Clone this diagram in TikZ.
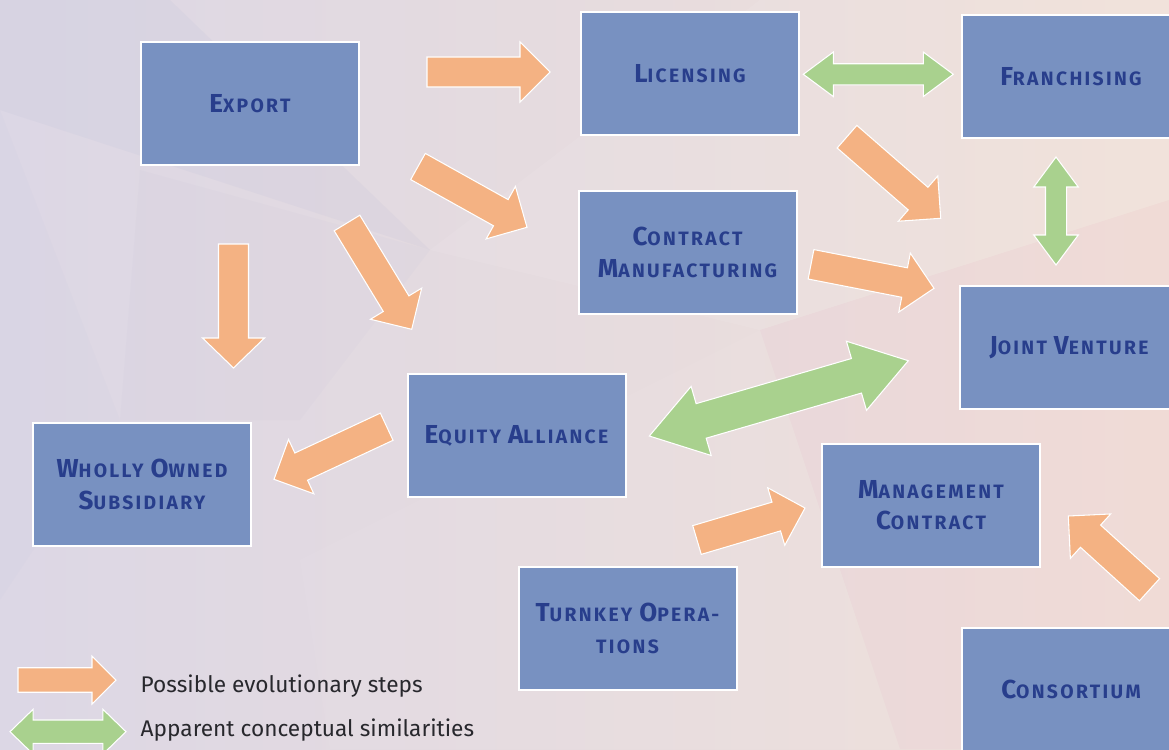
\documentclass[tikz,border=0pt]{standalone}
\usepackage{fontspec}
\setmainfont{Fira Sans}
\newfontfamily\boxfont{Fira Sans}[LetterSpace=12]
\usetikzlibrary{calc}

\definecolor{boxfill}{RGB}{120,145,193}
\definecolor{boxtext}{RGB}{40,62,140}
\definecolor{steporange}{RGB}{244,178,131}
\definecolor{simgreen}{RGB}{169,209,142}
\definecolor{bgleft}{RGB}{220,215,229}
\definecolor{bgright}{RGB}{240,224,216}
\definecolor{legendtext}{RGB}{40,40,45}
\definecolor{facetblue}{RGB}{150,160,200}

% enlarged initial letter for the fake small caps
\newcommand\Cap[1]{{\fontsize{19.5}{23}\selectfont #1}}

\tikzset{
  entry/.style={draw=white, line width=1.5pt, fill=boxfill,
    minimum width=163.5pt, minimum height=92.25pt, inner sep=0pt,
    align=center, text=boxtext,
    font=\boxfont\bfseries\fontsize{14.5}{23.5}\selectfont},
  steparrow/.style={fill=steporange, draw=white, line width=0.8pt},
  simarrow/.style={fill=simgreen, draw=white, line width=0.8pt},
  legendlabel/.style={anchor=west, text=legendtext,
    font=\fontsize{17}{20}\selectfont},
}

% block arrow: style, tail, tip, shaft half width, head half width, head length
\newcommand\singlearrow[6]{%
  \path ($(#3)!#6!(#2)$) coordinate (hb);
  \draw[#1] ($(#2)!#4!90:(#3)$) -- ($(hb)!#4!90:(#3)$) -- ($(hb)!#5!90:(#3)$)
    -- (#3) -- ($(hb)!#5!-90:(#3)$) -- ($(hb)!#4!-90:(#3)$)
    -- ($(#2)!#4!-90:(#3)$) -- cycle;}

% double block arrow: style, end a, end b, shaft half width, head half width, head length
\newcommand\doublearrow[6]{%
  \path ($(#2)!#6!(#3)$) coordinate (ha) ($(#3)!#6!(#2)$) coordinate (hb);
  \draw[#1] (#2) -- ($(ha)!#5!90:(#3)$) -- ($(ha)!#4!90:(#3)$)
    -- ($(hb)!#4!90:(#3)$) -- ($(hb)!#5!90:(#3)$) -- (#3)
    -- ($(hb)!#5!-90:(#3)$) -- ($(hb)!#4!-90:(#3)$)
    -- ($(ha)!#4!-90:(#3)$) -- ($(ha)!#5!-90:(#3)$) -- cycle;}

\begin{document}
\begin{tikzpicture}[x=0.75pt,y=-0.75pt]
\clip (0,0) rectangle (1169,749);

% background with faint facets
\shade[left color=bgleft, right color=bgright] (0,0) rectangle (1169,749);
\fill[facetblue, opacity=0.07] (0,0) -- (170,0) -- (430,250) -- (0,110) -- cycle;
\fill[facetblue, opacity=0.04] (140,170) -- (430,250) -- (300,420) -- (120,420) -- cycle;
\fill[white, opacity=0.08] (430,250) -- (760,0) -- (1169,0) -- (1169,200) -- (760,330) -- cycle;
\fill[white, opacity=0.05] (300,560) -- (760,330) -- (900,749) -- (330,749) -- cycle;
\fill[red!40!magenta, opacity=0.02] (760,330) -- (1169,200) -- (1169,749) -- (900,749) -- cycle;
\fill[facetblue, opacity=0.03] (0,110) -- (120,420) -- (0,600) -- cycle;

% boxes
\node[entry] (export)  at (250,103.5) {\Cap{E}XPORT};
\node[entry] (lic)     at (690,73.5)  {\Cap{L}ICENSING};
\node[entry] (fran)    at (1071,76.5) {\Cap{F}RANCHISING};
\node[entry] (cm)      at (687.5,252.5) {\Cap{C}ONTRACT\\\Cap{M}ANUFACTURING};
\node[entry] (jv)      at (1069,347.5) {\Cap{J}OINT \Cap{V}ENTURE};
\node[entry] (ea)      at (516.5,435.5) {\Cap{E}QUITY \Cap{A}LLIANCE};
\node[entry] (wos)     at (142,484.5) {\Cap{W}HOLLY \Cap{O}WNED\\\Cap{S}UBSIDIARY};
\node[entry] (mc)      at (931,505.5) {\Cap{M}ANAGEMENT\\\Cap{C}ONTRACT};
\node[entry] (turn)    at (627.5,628.5) {\Cap{T}URNKEY \Cap{O}PERA-\\TIONS};
\node[entry] (cons)    at (1071,689.5) {\Cap{C}ONSORTIUM};

% arrow end points
\coordinate (a1s) at (427,72);      \coordinate (a1e) at (550,72);
\coordinate (a2s) at (418,166.5);   \coordinate (a2e) at (527,227.3);
\coordinate (a3s) at (347,223);     \coordinate (a3e) at (411.7,329.3);
\coordinate (a4s) at (233.5,244);   \coordinate (a4e) at (233.5,368);
\coordinate (a5s) at (847,136.7);   \coordinate (a5e) at (940.7,218.3);
\coordinate (a6s) at (811,264.3);   \coordinate (a6e) at (934,288.3);
\coordinate (a7s) at (386.7,426.7); \coordinate (a7e) at (274,479.3);
\coordinate (a8s) at (697,540);     \coordinate (a8e) at (805,508);
\coordinate (a9s) at (1149.5,589.7);\coordinate (a9e) at (1068.3,516);
\coordinate (g1s) at (803.3,74.3);  \coordinate (g1e) at (953.3,74.3);
\coordinate (g2s) at (1056,157);    \coordinate (g2e) at (1056,265);
\coordinate (g3s) at (649.3,436);   \coordinate (g3e) at (908.3,360.7);

% evolutionary steps
\singlearrow{steparrow}{a1s}{a1e}{11.25pt}{22.5pt}{22.5pt}
\singlearrow{steparrow}{a2s}{a2e}{11.25pt}{22.5pt}{22.5pt}
\singlearrow{steparrow}{a3s}{a3e}{11.25pt}{22.5pt}{22.5pt}
\singlearrow{steparrow}{a4s}{a4e}{11.25pt}{23.25pt}{22.5pt}
\singlearrow{steparrow}{a5s}{a5e}{11.25pt}{22.5pt}{22.5pt}
\singlearrow{steparrow}{a6s}{a6e}{11.25pt}{22.5pt}{22.5pt}
\singlearrow{steparrow}{a7s}{a7e}{11.25pt}{22.5pt}{22.5pt}
\singlearrow{steparrow}{a8s}{a8e}{11.25pt}{22.5pt}{22.5pt}
\singlearrow{steparrow}{a9s}{a9e}{11.25pt}{22.5pt}{22.5pt}

% conceptual similarities
\doublearrow{simarrow}{g1s}{g1e}{7.9pt}{16.7pt}{22.5pt}
\doublearrow{simarrow}{g2s}{g2e}{7.9pt}{16.7pt}{22.5pt}
\doublearrow{simarrow}{g3s}{g3e}{13.5pt}{27pt}{40.5pt}

% legend
\coordinate (lo1) at (18,680);  \coordinate (lo2) at (116,680);
\coordinate (lg1) at (10,731.7); \coordinate (lg2) at (126,731.7);
\singlearrow{steparrow}{lo1}{lo2}{9.2pt}{18pt}{18pt}
\doublearrow{simarrow}{lg1}{lg2}{8.8pt}{16.8pt}{17.3pt}
\node[legendlabel] (leg1) at (136,686) {Possible evolutionary steps};
\node[legendlabel] (leg2) at (136,730) {Apparent conceptual similarities};
\end{tikzpicture}
\end{document}
